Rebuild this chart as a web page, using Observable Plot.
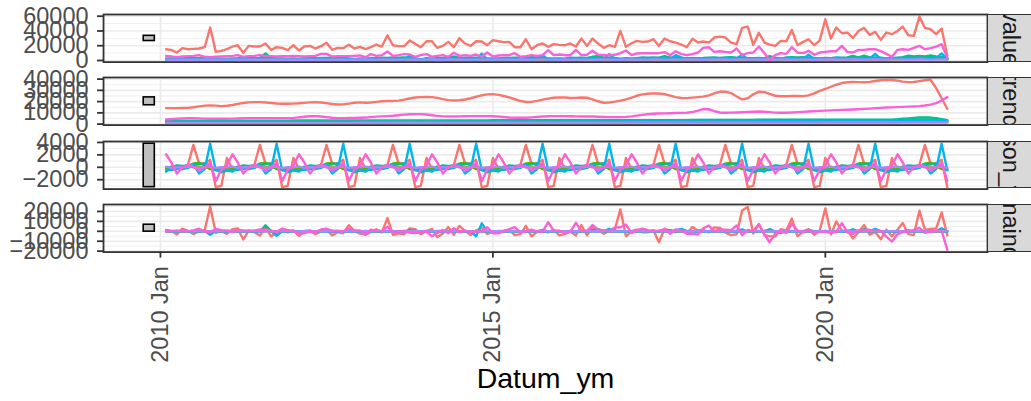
<!DOCTYPE html>
<html><head><meta charset="utf-8">
<script src="https://cdn.jsdelivr.net/npm/d3@7"></script>
<script src="https://cdn.jsdelivr.net/npm/@observablehq/plot@0.6"></script>
<style>
body{margin:0;background:#fff;font-family:"Liberation Sans",Arial,sans-serif;}
#chart{position:relative;width:1031px;height:401px;overflow:hidden;background:#fff;}
.panel{position:absolute;left:0;}
.strip{position:absolute;left:987px;width:46px;background:#D9D9D9;border:1.8px solid #333333;box-sizing:border-box;overflow:hidden;display:flex;align-items:center;justify-content:center;}
.strip span{writing-mode:vertical-rl;font-size:23.5px;color:#1A1A1A;white-space:nowrap;font-family:"Liberation Sans",Arial,sans-serif;}
</style></head><body><div id="chart"></div>
<script>
// ---------- categories ----------
const componentNames = ["value", "trend", "season_year", "remainder"];
const seriesNames = ["s1", "s2", "s3", "s4", "s5", "s6", "s7"];
const seriesColors = ["#F8766D", "#C49A00", "#53B400", "#00C094", "#00B6EB", "#A58AFF", "#FB61D7"];
const xTickLabels = ["2010-01-01", "2015-01-01", "2020-01-01"];
const yTicks = [[0, 20000, 40000, 60000], [0, 10000, 20000, 30000, 40000], [-2000, 0, 2000, 4000], [-20000, -10000, 0, 10000, 20000]];
const yMinorTicks = [[10000, 30000, 50000], [5000, 15000, 25000, 35000], [-3000, -1000, 1000, 3000], [-15000, -5000, 5000, 15000, 25000]];
// months: Feb 2010 .. Nov 2021 (one value per month, one row per year below)

// ---------- series 1 (red) ----------
const redValue = [
15300,14400,10800,16700,15300,15800,16200,18000,44600,11700,13100,
15300,18900,20700,10400,19800,18900,18900,23000,14400,18000,17100,14000,
20700,13500,18900,19800,16200,19400,23900,14400,17100,16700,21200,16200,
18500,15300,18000,21600,18900,34200,20700,19400,19400,27000,22500,18000,
26100,26100,17100,19800,25200,18000,30200,23000,19800,26100,25700,20700,
27500,26100,24800,25200,18000,18000,28800,15300,20700,23000,18500,22100,
21200,20700,23000,18900,29700,19800,29700,23000,17100,20700,18500,40000,
18500,23400,26600,25200,25700,28800,19800,29700,26100,24300,21600,18000,
29300,24300,25700,24300,31100,32400,31100,24300,22100,44100,45900,21200,
37400,24300,21600,19800,26600,26100,41400,20700,25200,28800,20700,27000,
55800,29700,44600,36900,37800,30600,40000,44100,34700,38700,27900,37800,
35600,40000,45900,34200,33300,59400,44100,42300,35600,43200,6300];
const redTrend = [
14200,14200,14200,14300,14400,15000,15800,16400,16600,16400,16000,
16300,17000,18000,18800,19300,19500,19500,19200,18800,18300,18100,18100,
18200,18500,18900,19300,19500,19200,18600,17900,17400,17500,18200,19000,
19300,19000,19200,19800,20300,20500,20600,20900,21800,22800,23600,24000,
24100,24000,23300,22200,21300,21000,21200,21900,23000,24300,25600,26400,
26600,26000,25000,23700,22100,20500,19700,19800,20600,21700,22700,23400,
23800,23600,23200,23300,23700,23400,22000,20300,19000,19200,20000,20900,
22000,23500,25200,26400,27000,27300,27200,26500,25300,24000,23200,23100,
23500,24000,24400,25600,27400,28700,28900,27600,24500,22000,23000,26500,
28800,28400,26800,25200,24700,24800,25000,25000,24900,25500,27300,29500,
31200,33200,35000,36500,37200,37400,37300,37200,37500,38300,39000,39300,
39200,38600,37800,37300,37400,38200,39000,39400,32000,23000,13600];
const redSeason = [
-300,-300,-200,-300,400,3600,600,600,1200,-3200,-3000,
1500,-300,-300,-200,-300,400,3600,600,600,1200,-3200,-3000,
1500,-300,-300,-200,-300,400,3600,600,600,1200,-3200,-3000,
1500,-300,-300,-200,-300,400,3600,600,600,1200,-3200,-3000,
1500,-300,-300,-200,-300,400,3600,600,600,1200,-3200,-3000,
1500,-300,-300,-200,-300,400,3600,600,600,1200,-3200,-3000,
1500,-300,-300,-200,-300,400,3600,600,600,1200,-3200,-3000,
1500,-300,-300,-200,-300,400,3600,600,600,1200,-3200,-3000,
1500,-300,-300,-200,-300,400,3600,600,600,1200,-3200,-3000,
1500,-300,-300,-200,-300,400,3600,600,600,1200,-3200,-3000,
1500,-300,-300,-200,-300,400,3600,600,600,1200,-3200,-3000,
1500,-300,-300,-200,-300,400,3600,600,600,1200,-3200];
const redRemainder = [
1400,500,-3200,2700,500,-2800,-200,1000,25000,-1500,100,
-2500,2200,3000,-8200,800,-1000,-4200,3200,-5000,-1500,2200,-1100,
1000,-4700,300,700,-3000,-200,1700,-4100,-900,-2000,6200,200,
-2300,-3400,-900,2000,-1100,13300,-3500,-2100,-3000,3000,2100,-3000,
500,2400,-5900,-2200,4200,-3400,5400,500,-3800,600,3300,-2700,
-600,400,100,1700,-3800,-2900,5500,-5100,-500,100,-1000,1700,
-4100,-2600,100,-4200,6300,-4000,4100,2100,-2500,300,1700,22100,
-5000,200,1700,-1000,-1000,1100,-11000,2600,200,-900,1600,-2100,
4300,600,1600,-1100,4000,3300,-1400,-3900,-3000,20900,24500,-2300,
7100,-3800,-4900,-5200,2200,900,12800,-4900,-300,2100,-3400,500,
23100,-3200,9900,600,900,-7200,-900,6300,-3400,-800,-7900,1500,
-5100,1700,8400,-2900,-3800,20800,1500,2300,3000,19000,-4100];

// ---------- series 2 (olive) ----------
const oliveValue = [
1100,1100,1100,1000,1200,1300,1100,1100,1100,800,1000,
1200,1100,1100,1100,1000,1200,1300,1100,1100,1100,800,1000,
1300,1000,1000,1200,1200,1000,1300,1300,1000,1000,900,1100,
1200,1100,1300,1300,1000,1200,1600,1300,1000,1300,1000,1000,
1300,1000,1200,1400,1100,1100,1500,1300,1300,1100,1000,1100,
1400,1100,1100,1300,1200,1200,1300,1500,1100,1200,900,1200,
1400,1300,1300,1300,1200,1500,1500,1300,1200,1400,1100,1100,
1300,1200,1400,1400,1100,1300,1600,1400,1500,1200,1100,1300,
1400,1300,1200,1400,1300,1300,1400,1400,1200,1500,1000,1200,
1600,1300,1400,1400,1300,1500,1600,1400,1400,1400,1200,1200,
1600,1300,1600,1600,1400,1400,1900,1600,1300,1600,1300,1400,
1800,1700,2000,2600,2600,2800,3200,3200,2400,2200,1700];
const oliveTrend = [
1100,1100,1100,1100,1100,1100,1100,1100,1100,1100,1100,
1100,1100,1100,1100,1100,1100,1100,1100,1100,1100,1100,1100,
1100,1100,1100,1100,1100,1100,1100,1100,1100,1100,1100,1100,
1200,1200,1200,1200,1200,1200,1200,1200,1200,1200,1200,1200,
1200,1200,1200,1200,1200,1200,1200,1200,1200,1200,1200,1200,
1200,1200,1200,1200,1200,1200,1200,1200,1200,1200,1200,1200,
1300,1300,1300,1300,1300,1300,1300,1300,1300,1300,1300,1300,
1300,1300,1300,1300,1300,1300,1300,1300,1300,1300,1300,1300,
1300,1300,1300,1300,1300,1300,1300,1300,1300,1300,1300,1300,
1400,1400,1400,1400,1400,1400,1400,1400,1400,1400,1400,1400,
1500,1500,1500,1500,1500,1500,1500,1500,1500,1500,1500,1500,
1600,1800,2100,2400,2700,2900,3000,2900,2600,2200,1800];
const oliveSeason = [
-100,0,100,-100,0,200,100,-100,0,-200,-100,
100,-100,0,100,-100,0,200,100,-100,0,-200,-100,
100,-100,0,100,-100,0,200,100,-100,0,-200,-100,
100,-100,0,100,-100,0,200,100,-100,0,-200,-100,
100,-100,0,100,-100,0,200,100,-100,0,-200,-100,
100,-100,0,100,-100,0,200,100,-100,0,-200,-100,
100,-100,0,100,-100,0,200,100,-100,0,-200,-100,
100,-100,0,100,-100,0,200,100,-100,0,-200,-100,
100,-100,0,100,-100,0,200,100,-100,0,-200,-100,
100,-100,0,100,-100,0,200,100,-100,0,-200,-100,
100,-100,0,100,-100,0,200,100,-100,0,-200,-100,
100,-100,0,100,-100,0,200,100,-100,0,-200];
const oliveRemainder = [
100,0,-100,0,100,0,-100,100,0,-100,0,
0,100,0,-100,0,100,0,-100,100,0,-100,0,
100,0,-100,0,200,-100,0,100,0,-100,0,100,
-100,0,100,0,-100,0,200,0,-100,100,0,-100,
0,-100,0,100,0,-100,100,0,200,-100,0,0,
100,0,-100,0,100,0,-100,200,0,0,-100,100,
0,100,0,-100,0,200,0,-100,0,100,0,-100,
-100,0,100,0,-100,0,100,0,300,-100,0,100,
0,100,-100,0,100,0,-100,0,0,200,-100,0,
100,0,0,-100,0,100,0,-100,100,0,0,-100,
0,-100,100,0,0,-100,200,0,-100,100,0,0,
100,0,-100,100,0,-100,0,200,-100,0,100];

// ---------- series 3 (green) ----------
const greenValue = [
1500,2200,2500,1800,2200,2800,2400,2400,1600,1800,1200,
1900,1500,2100,2400,1800,2500,2400,4200,2200,1700,1800,1300,
1900,2000,1900,2400,2200,2200,2700,3100,2200,1900,1600,1700,
1800,1800,2400,2000,2100,2300,2900,2700,2700,1600,1700,1600,
2200,1800,2300,2700,1900,2500,2700,3100,2500,1600,2000,1500,
1900,2100,2100,2400,2200,2100,3000,2900,2400,2200,1600,1700,
2200,2000,2600,2400,2000,2800,2800,4500,2600,1800,2000,1600,
2100,1800,2500,2700,2100,2500,3200,2800,3800,1900,2100,1700,
2400,2200,2200,2600,2500,2500,3000,3400,2500,2200,2000,1600,
2200,2500,3600,2500,1600,2900,3100,3100,3100,1900,2300,2000,
2500,2200,2900,2800,2300,3100,3300,4800,2600,2500,2100,2000,
2700,2400,3300,4000,3600,4400,4400,4700,3800,2500,2200];
const greenTrend = [
2000,2000,2000,2000,2000,2000,2000,2000,2000,2000,2000,
2000,2000,2000,2000,2000,2000,2000,2000,2000,2000,2000,2000,
2100,2100,2100,2100,2100,2100,2100,2100,2100,2100,2100,2100,
2100,2100,2100,2100,2100,2100,2100,2100,2100,2100,2100,2100,
2200,2200,2200,2200,2200,2200,2200,2200,2200,2200,2200,2200,
2200,2200,2200,2200,2200,2200,2200,2200,2200,2200,2200,2200,
2300,2300,2300,2300,2300,2300,2300,2300,2300,2300,2300,2300,
2300,2300,2300,2300,2300,2300,2300,2300,2300,2300,2300,2300,
2400,2400,2400,2400,2400,2400,2400,2400,2400,2400,2400,2400,
2500,2500,2500,2500,2500,2500,2500,2500,2500,2500,2500,2500,
2600,2600,2600,2600,2600,2600,2600,2600,2600,2600,2600,2600,
2700,2900,3200,3500,3800,4000,4100,3900,3500,3000,2500];
const greenSeason = [
-300,100,200,-100,200,600,700,300,-300,-400,-600,
-200,-300,100,200,-100,200,600,700,300,-300,-400,-600,
-200,-300,100,200,-100,200,600,700,300,-300,-400,-600,
-200,-300,100,200,-100,200,600,700,300,-300,-400,-600,
-200,-300,100,200,-100,200,600,700,300,-300,-400,-600,
-200,-300,100,200,-100,200,600,700,300,-300,-400,-600,
-200,-300,100,200,-100,200,600,700,300,-300,-400,-600,
-200,-300,100,200,-100,200,600,700,300,-300,-400,-600,
-200,-300,100,200,-100,200,600,700,300,-300,-400,-600,
-200,-300,100,200,-100,200,600,700,300,-300,-400,-600,
-200,-300,100,200,-100,200,600,700,300,-300,-400,-600,
-200,-300,100,200,-100,200,600,700,300,-300,-400];
const greenRemainder = [
-200,100,300,-100,0,200,-300,100,-100,200,-200,
100,-200,0,200,-100,300,-200,1500,-100,0,200,-100,
0,200,-300,100,200,-100,0,300,-200,100,-100,200,
-100,0,200,-300,100,0,200,-100,300,-200,0,100,
200,-100,0,300,-200,100,-100,200,0,-300,200,-100,
-100,200,-200,0,100,-300,200,0,-100,300,-200,100,
100,0,200,-100,-200,300,-100,1500,0,-200,100,-100,
0,-200,100,200,-100,0,300,-200,1200,-100,200,0,
200,100,-300,0,200,-100,0,300,-200,100,0,-200,
-100,300,1000,-200,-800,200,0,-100,300,-300,200,100,
100,-100,200,0,-200,300,100,1500,-300,200,-100,0,
200,-200,0,300,-100,200,-300,100,0,-200,100];

// ---------- series 4 (teal) ----------
const tealValue = [
2600,2800,3400,2800,3500,3400,3200,4000,3000,2700,2500,
2300,2600,3000,3700,3300,3200,3200,9600,3900,3000,2800,2300,
2900,2200,3200,3900,3200,3600,3500,4000,3400,3600,2800,2200,
2700,2900,3100,3600,3700,3300,4100,3700,4100,3300,3200,1000,
3000,2500,3600,3400,3500,5400,3400,3900,3700,3900,2800,2700,
2600,2800,3600,3600,3900,3700,3600,4300,3700,3700,2800,2900,
2900,2500,3700,3600,3800,3400,5000,6100,3800,3700,3300,2500,
3200,2700,3200,4200,3700,4000,3700,5800,3800,3800,2900,3000,
3000,3200,3400,3900,4000,3600,4100,4500,3700,4000,3100,3000,
3600,2800,6000,3900,2500,4200,4500,4100,4600,3600,3500,2900,
3600,3100,4200,3900,4200,6200,4100,6600,4200,4200,3700,2900,
3400,3900,4500,6400,5400,6300,5400,6700,5600,4900,2700];
const tealTrend = [
3000,3000,3000,3000,3000,3000,3000,3000,3000,3000,3000,
3100,3100,3100,3100,3100,3100,3100,3100,3100,3100,3100,3100,
3200,3200,3200,3200,3200,3200,3200,3200,3200,3200,3200,3200,
3300,3300,3300,3300,3300,3300,3300,3300,3300,3300,3300,3300,
3300,3300,3300,3300,3300,3300,3300,3300,3300,3300,3300,3300,
3400,3400,3400,3400,3400,3400,3400,3400,3400,3400,3400,3400,
3400,3400,3400,3400,3400,3400,3400,3400,3400,3400,3400,3400,
3500,3500,3500,3500,3500,3500,3500,3500,3500,3500,3500,3500,
3600,3600,3600,3600,3600,3600,3600,3600,3600,3600,3600,3600,
3800,3800,3800,3800,3800,3800,3800,3800,3800,3800,3800,3800,
3900,3900,3900,3900,3900,3900,3900,3900,3900,3900,3900,3900,
4000,4300,4700,5100,5500,5800,6000,5800,5200,4400,3500];
const tealSeason = [
-700,0,300,200,300,400,500,600,200,-400,-800,
-500,-700,0,300,200,300,400,500,600,200,-400,-800,
-500,-700,0,300,200,300,400,500,600,200,-400,-800,
-500,-700,0,300,200,300,400,500,600,200,-400,-800,
-500,-700,0,300,200,300,400,500,600,200,-400,-800,
-500,-700,0,300,200,300,400,500,600,200,-400,-800,
-500,-700,0,300,200,300,400,500,600,200,-400,-800,
-500,-700,0,300,200,300,400,500,600,200,-400,-800,
-500,-700,0,300,200,300,400,500,600,200,-400,-800,
-500,-700,0,300,200,300,400,500,600,200,-400,-800,
-500,-700,0,300,200,300,400,500,600,200,-400,-800,
-500,-700,0,300,200,300,400,500,600,200,-400];
const tealRemainder = [
300,-200,100,-400,200,0,-300,400,-200,100,300,
-300,200,-100,300,0,-200,-300,6000,200,-300,100,0,
200,-300,0,400,-200,100,-100,300,-400,200,0,-200,
-100,300,-200,0,200,-300,400,-100,200,-200,300,-1500,
200,-100,300,-200,0,1800,-300,100,-200,400,-100,200,
-300,100,200,-100,300,0,-200,400,-300,100,-200,300,
0,-200,300,-100,200,-300,1200,2200,-200,100,300,-100,
200,-100,-300,400,0,200,-200,1800,-300,100,-200,300,
-100,300,-200,0,200,-300,100,400,-500,200,-100,200,
300,-300,2200,-200,-1500,100,300,-200,200,-400,100,-100,
200,-100,300,-300,100,2000,-200,2200,-300,100,200,-200,
-100,300,-200,1000,-300,200,-1000,400,-200,300,-400];

// ---------- series 5 (blue) ----------
const blueValue = [
1200,900,1300,1200,1100,2200,400,1500,1800,1200,1000,
1200,900,1500,1200,1500,1500,1800,800,1600,900,1200,1000,
1200,1400,1200,1700,1200,1700,2200,400,1600,5000,1500,1300,
1100,1400,1600,1400,1500,2000,2100,900,1200,7100,1100,1500,
1600,1300,1500,1900,1400,1900,2100,1100,1600,700,9400,1200,
1600,1300,1900,1700,1600,2100,2200,1100,1900,7300,1300,1600,
1600,1900,1800,1700,2200,2000,2800,900,2100,8500,2000,1600,
1800,1700,2100,2100,1800,2500,2700,1500,1700,7100,4300,2000,
2100,1900,1700,2200,2300,2200,3200,1200,2200,8200,1600,2200,
1900,2300,2100,2000,2300,2600,2900,1800,2000,7800,2200,2000,
2500,2000,2400,2400,2100,2800,3300,1500,2700,9000,2100,2500,
2300,2200,2600,2200,2600,3000,3100,1900,2700,9600,1800];
const blueTrend = [
1500,1500,1500,1500,1500,1500,1500,1500,1500,1500,1500,
1600,1600,1600,1600,1600,1600,1600,1600,1600,1600,1600,1600,
1700,1700,1700,1700,1700,1700,1700,1700,1700,1700,1700,1700,
1800,1800,1800,1800,1800,1800,1800,1800,1800,1800,1800,1800,
1900,1900,1900,1900,1900,1900,1900,1900,1900,1900,1900,1900,
2000,2000,2000,2000,2000,2000,2000,2000,2000,2000,2000,2000,
2200,2200,2200,2200,2200,2200,2200,2200,2200,2200,2200,2200,
2300,2300,2300,2300,2300,2300,2300,2300,2300,2300,2300,2300,
2400,2400,2400,2400,2400,2400,2400,2400,2400,2400,2400,2400,
2500,2500,2500,2500,2500,2500,2500,2500,2500,2500,2500,2500,
2700,2700,2700,2700,2700,2700,2700,2700,2700,2700,2700,2700,
2800,2800,2800,2800,2800,2800,2800,2800,2800,2800,2800];
const blueSeason = [
-500,-400,-300,-300,-100,500,-1000,-300,3800,-500,-400,
-500,-500,-400,-300,-300,-100,500,-1000,-300,3800,-500,-400,
-500,-500,-400,-300,-300,-100,500,-1000,-300,3800,-500,-400,
-500,-500,-400,-300,-300,-100,500,-1000,-300,3800,-500,-400,
-500,-500,-400,-300,-300,-100,500,-1000,-300,3800,-500,-400,
-500,-500,-400,-300,-300,-100,500,-1000,-300,3800,-500,-400,
-500,-500,-400,-300,-300,-100,500,-1000,-300,3800,-500,-400,
-500,-500,-400,-300,-300,-100,500,-1000,-300,3800,-500,-400,
-500,-500,-400,-300,-300,-100,500,-1000,-300,3800,-500,-400,
-500,-500,-400,-300,-300,-100,500,-1000,-300,3800,-500,-400,
-500,-500,-400,-300,-300,-100,500,-1000,-300,3800,-500,-400,
-500,-500,-400,-300,-300,-100,500,-1000,-300,3800,-500];
const blueRemainder = [
200,-200,100,0,-300,200,-100,300,-3500,200,-100,
100,-200,300,-100,200,0,-300,200,300,-4500,100,-200,
0,200,-100,300,-200,100,0,-300,200,-500,300,0,
-200,100,200,-100,0,300,-200,100,-300,1500,-200,100,
200,-100,0,300,-200,100,-300,200,0,-5000,8000,-300,
100,-200,300,0,-100,200,-300,100,200,1500,-200,0,
-100,200,0,-200,300,-100,100,-300,200,2500,300,-200,
0,-100,200,100,-200,300,-100,200,-300,1000,2500,100,
200,0,-300,100,200,-100,300,-200,100,2000,-300,200,
-100,300,0,-200,100,200,-100,300,-200,1500,200,-100,
300,-200,100,0,-300,200,100,-200,300,2500,-100,200,
0,-100,200,-300,100,300,-200,100,200,3000,-500];

// ---------- series 6 (purple) ----------
const purpleValue = [
1200,1100,1100,1000,1200,1100,1100,1100,1100,1000,1100,
1200,1200,1000,1000,1100,1300,1100,1000,1000,1200,1100,1100,
1100,1100,1100,1100,1100,1100,1100,1100,1100,1200,900,1100,
1300,1300,1000,1200,1300,1300,1200,1000,1200,1400,1100,1200,
1200,1400,1100,1200,1100,1300,1300,1100,1200,1200,1100,1300,
1200,1300,1200,1100,1200,1300,1100,1200,1200,1300,1200,1200,
1100,1300,1100,1300,1200,1200,1200,1100,1300,1300,1100,1100,
1300,1500,1200,1300,1200,1400,1400,1200,1200,1400,1200,1400,
1400,1400,1100,1300,1300,1500,1300,1100,1300,1400,1300,1300,
1300,1300,1200,1400,1300,1400,1200,1200,1400,1400,1100,1300,
1400,1600,1300,1300,1400,1600,1400,1300,1300,1600,1300,1400,
1500,1500,1300,1300,1400,1600,1400,1200,1400,1500,1400];
const purpleTrend = [
1100,1100,1100,1100,1100,1100,1100,1100,1100,1100,1100,
1100,1100,1100,1100,1100,1100,1100,1100,1100,1100,1100,1100,
1100,1100,1100,1100,1100,1100,1100,1100,1100,1100,1100,1100,
1200,1200,1200,1200,1200,1200,1200,1200,1200,1200,1200,1200,
1200,1200,1200,1200,1200,1200,1200,1200,1200,1200,1200,1200,
1200,1200,1200,1200,1200,1200,1200,1200,1200,1200,1200,1200,
1200,1200,1200,1200,1200,1200,1200,1200,1200,1200,1200,1200,
1300,1300,1300,1300,1300,1300,1300,1300,1300,1300,1300,1300,
1300,1300,1300,1300,1300,1300,1300,1300,1300,1300,1300,1300,
1300,1300,1300,1300,1300,1300,1300,1300,1300,1300,1300,1300,
1400,1400,1400,1400,1400,1400,1400,1400,1400,1400,1400,1400,
1400,1400,1400,1400,1400,1400,1400,1400,1400,1400,1400];
const purpleSeason = [
100,-100,0,0,100,0,-100,0,100,-100,0,
0,100,-100,0,0,100,0,-100,0,100,-100,0,
0,100,-100,0,0,100,0,-100,0,100,-100,0,
0,100,-100,0,0,100,0,-100,0,100,-100,0,
0,100,-100,0,0,100,0,-100,0,100,-100,0,
0,100,-100,0,0,100,0,-100,0,100,-100,0,
0,100,-100,0,0,100,0,-100,0,100,-100,0,
0,100,-100,0,0,100,0,-100,0,100,-100,0,
0,100,-100,0,0,100,0,-100,0,100,-100,0,
0,100,-100,0,0,100,0,-100,0,100,-100,0,
0,100,-100,0,0,100,0,-100,0,100,-100,0,
0,100,-100,0,0,100,0,-100,0,100,-100];
const purpleRemainder = [
0,100,0,-100,0,0,100,0,-100,0,0,
100,0,0,-100,0,100,0,0,-100,0,100,0,
0,-100,100,0,0,-100,0,100,0,0,-100,0,
100,0,-100,0,100,0,0,-100,0,100,0,0,
0,100,0,0,-100,0,100,0,0,-100,0,100,
0,0,100,-100,0,0,-100,100,0,0,100,0,
-100,0,0,100,0,-100,0,0,100,0,0,-100,
0,100,0,0,-100,0,100,0,-100,0,0,100,
100,0,-100,0,0,100,0,-100,0,0,100,0,
0,-100,0,100,0,0,-100,0,100,0,-100,0,
0,100,0,-100,0,100,0,0,-100,100,0,0,
100,0,0,-100,0,100,0,-100,0,0,100];

// ---------- series 7 (pink) ----------
const pinkValue = [
6300,5400,4500,5400,5900,6300,7200,5000,4500,5000,5400,
5900,6300,7200,5000,5900,6300,7200,6300,5900,5400,5900,5900,
6300,5900,5400,5900,6300,9000,9000,5400,5900,5900,5900,6300,
6800,4500,8600,6300,7200,12200,6300,7200,8600,8100,5000,7200,
8600,5000,6300,7200,5000,10400,6300,7200,6300,8100,5000,10800,
5400,6800,7200,7200,9900,5000,5900,7200,6300,7200,14000,7200,
8100,7200,7200,14400,7200,7700,13100,7700,7200,7200,7700,9900,
13500,7200,9500,9900,9900,9900,9900,11300,7200,12600,8600,7200,
8600,10800,17100,18000,11700,12600,11700,10800,16200,7200,9900,10800,
18900,9900,500,7200,9900,9000,18000,10800,9900,13100,7700,10800,
11700,12600,12600,19800,11700,10800,14400,14400,15300,15300,12600,9000,
5000,14400,15300,14400,17100,19800,15300,16700,18900,22100,4100];
const pinkTrend = [
4100,4400,4800,5100,5300,5300,5100,4900,4700,4700,4700,
4800,4900,5000,5200,5300,5300,5300,5300,5300,5300,5300,5300,
5500,6000,6500,7000,7100,6800,6200,5600,5300,5300,5400,5500,
5600,5800,6200,6600,6900,7100,7400,7900,8400,8800,8900,8900,
8500,7900,7300,6900,6800,6800,6900,7000,7100,7100,7100,7100,
7000,6700,6300,5900,5700,5600,5700,6000,6400,6800,7000,7100,
7100,7100,7000,6900,6800,6800,6700,6500,6300,6200,6200,6200,
6400,6900,7500,8200,8800,9200,9400,9500,9700,9900,10000,10100,
10700,12000,13400,13200,11600,10300,10100,10200,10300,10500,10700,11000,
11200,11000,10600,10200,10100,10100,10300,10600,10900,11200,11500,11800,
12000,12200,12400,12600,12800,13000,13200,13500,13800,14100,14400,14700,
14900,15100,15300,15500,15700,16000,16500,17300,18600,21000,24000];
const pinkSeason = [
2100,800,-1000,0,400,100,-500,0,700,-2200,-400,
300,2100,800,-1000,0,400,100,-500,0,700,-2200,-400,
300,2100,800,-1000,0,400,100,-500,0,700,-2200,-400,
300,2100,800,-1000,0,400,100,-500,0,700,-2200,-400,
300,2100,800,-1000,0,400,100,-500,0,700,-2200,-400,
300,2100,800,-1000,0,400,100,-500,0,700,-2200,-400,
300,2100,800,-1000,0,400,100,-500,0,700,-2200,-400,
300,2100,800,-1000,0,400,100,-500,0,700,-2200,-400,
300,2100,800,-1000,0,400,100,-500,0,700,-2200,-400,
300,2100,800,-1000,0,400,100,-500,0,700,-2200,-400,
300,2100,800,-1000,0,400,100,-500,0,700,-2200,-400,
300,2100,800,-1000,0,400,100,-500,0,700,-2200];
const pinkRemainder = [
100,200,700,300,200,900,2600,0,-900,2500,1100,
800,-700,1400,800,600,600,1800,1500,600,-600,2800,1000,
500,-2300,-1900,-200,-800,1800,2700,300,600,-200,2700,1200,
900,-3400,1600,700,300,4700,-1200,-200,200,-1400,-1800,-1300,
-200,-5100,-1800,1300,-1900,3200,-700,700,-800,300,0,4100,
-1900,-2100,100,2300,4200,-1100,0,1700,-100,-300,9200,500,
700,-2000,-600,8500,400,500,6300,1700,900,300,3700,4100,
6800,-1800,1200,2700,1100,300,400,2300,-2500,2000,800,-2500,
-2500,-3300,2900,5800,100,1900,1500,1100,5900,-4000,1400,200,
7400,-3200,-11000,-2000,-200,-1500,7600,700,-1000,1200,-1700,-600,
-600,-1700,-600,8200,-1100,-2600,1100,1400,1500,500,400,-5300,
-10300,-2800,-800,-100,1400,3400,-1300,-200,300,400,-18700];

// ---------- build table ----------
const seriesArrays = [
  [redValue, redTrend, redSeason, redRemainder],
  [oliveValue, oliveTrend, oliveSeason, oliveRemainder],
  [greenValue, greenTrend, greenSeason, greenRemainder],
  [tealValue, tealTrend, tealSeason, tealRemainder],
  [blueValue, blueTrend, blueSeason, blueRemainder],
  [purpleValue, purpleTrend, purpleSeason, purpleRemainder],
  [pinkValue, pinkTrend, pinkSeason, pinkRemainder]
];
const months = d3.utcMonth.range(new Date(Date.UTC(2010, 1, 1)), new Date(Date.UTC(2021, 11, 1)));
const rows = [];
componentNames.forEach((comp, c) => {
  seriesNames.forEach((s, k) => {
    seriesArrays[k][c].forEach((v, i) => {
      if (i < months.length) rows.push({component: comp, series: s, date: months[i], value: v});
    });
  });
});

// scale bars (feasts style): same height in every panel = smallest component range
const start = months[0], end = months[months.length - 1];
const barX1 = d3.utcMonth.offset(start, -4), barX2 = d3.utcMonth.offset(start, -2);
const ranges = componentNames.map(comp => d3.extent(rows.filter(d => d.component === comp), d => d.value));
const minSpan = d3.min(ranges, r => r[1] - r[0]);
const bars = ranges.map(r => ({x1: barX1, x2: barX2, y1: (r[0] + r[1]) / 2 - minSpan / 2, y2: (r[0] + r[1]) / 2 + minSpan / 2}));
const span = end - barX1;
const xDomain = [new Date(+barX1 - 0.05 * span), new Date(+end + 0.05 * span)];

// panel layout (pixels)
const panelTops = [14, 77.4, 140.8, 204.2];
const panelH = 47.6;
const yDomains = [[-2170, 62290], [-890, 41430], [-3510, 4150], [-20950, 27000]];
const xTicks = xTickLabels.map(d => new Date(d));
const fmt = d => d < 0 ? "\u2212" + Math.abs(d) : String(d);
const font = "Liberation Sans, Arial, Helvetica, sans-serif";

const chart = document.getElementById("chart");
componentNames.forEach((comp, k) => {
  const last = k === componentNames.length - 1;
  const mt = 14, mb = last ? 401 - panelTops[k] - panelH : 14;
  const marks = [
    Plot.gridY(yMinorTicks[k], {stroke: "#EBEBEB", strokeOpacity: 1, strokeWidth: 0.8}),
    Plot.gridY(yTicks[k], {stroke: "#EBEBEB", strokeOpacity: 1, strokeWidth: 1.6}),
    Plot.gridX(xTicks, {stroke: "#EBEBEB", strokeOpacity: 1, strokeWidth: 1.6}),
    Plot.rect([bars[k]], {x1: "x1", x2: "x2", y1: "y1", y2: "y2", fill: "#BFBFBF", stroke: "black", strokeWidth: 1.6}),
    Plot.line(rows.filter(d => d.component === comp), {x: "date", y: "value", z: "series", stroke: "series", strokeWidth: 2.4, clip: true}),
    Plot.frame({stroke: "#333333", strokeWidth: 1.8}),
    Plot.axisY(yTicks[k], {tickSize: 6, tickPadding: 9, fontSize: 23.5, fill: "#4D4D4D", stroke: "#333333", strokeWidth: 1.8, tickFormat: fmt, label: null, fontFamily: font})
  ];
  if (last) {
    marks.push(Plot.axisX(xTicks, {tickSize: 6, tickPadding: 8, tickRotate: -90, fontSize: 23.5, fill: "#4D4D4D", stroke: "#333333", strokeWidth: 1.8, tickFormat: d3.utcFormat("%Y %b"), label: null, fontFamily: font}));
    marks.push(Plot.text(["Datum_ym"], {text: d => d, frameAnchor: "bottom", dy: 136, fontSize: 28.5, fill: "black", fontFamily: font}));
  }
  const svg = Plot.plot({
    width: 1031,
    height: mt + panelH + mb,
    marginLeft: 103,
    marginRight: 44,
    marginTop: mt,
    marginBottom: mb,
    style: {background: "transparent", overflow: "visible", fontFamily: font},
    x: {type: "utc", domain: xDomain, axis: null},
    y: {domain: yDomains[k], axis: null},
    color: {domain: seriesNames, range: seriesColors},
    marks
  });
  svg.classList.add("panel");
  svg.style.top = (panelTops[k] - mt) + "px";
  svg.style.position = "absolute";
  chart.appendChild(svg);

  const strip = document.createElement("div");
  strip.className = "strip";
  strip.style.top = panelTops[k] + "px";
  strip.style.height = panelH + "px";
  const label = document.createElement("span");
  label.textContent = comp;
  strip.appendChild(label);
  chart.appendChild(strip);
});
</script></body></html>
